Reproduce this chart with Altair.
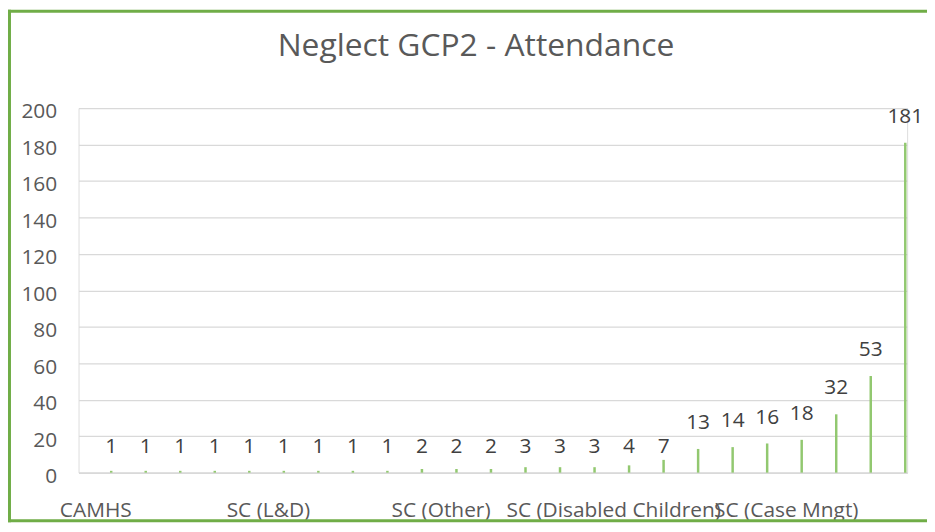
import altair as alt
import pandas as pd

# ---- data ----
categories = [
    "CAMHS", "Category 2", "Category 3", "Category 4", "Category 5",
    "SC (L&D)", "Category 7", "Category 8", "Category 9", "Category 10",
    "SC (Other)", "Category 12", "Category 13", "Category 14", "Category 15",
    "SC (Disabled Children)", "Category 17", "Category 18", "Category 19", "Category 20",
    "SC (Case Mngt)", "Category 22", "Category 23", "Category 24",
]
attendance = [1, 1, 1, 1, 1, 1, 1, 1, 1, 2, 2, 2, 3, 3, 3, 4, 7, 13, 14, 16, 18, 32, 53, 181]
shown_labels = ["CAMHS", "SC (L&D)", "SC (Other)", "SC (Disabled Children)", "SC (Case Mngt)"]
y_ticks = [0, 20, 40, 60, 80, 100, 120, 140, 160, 180, 200]
title_text = ["Neglect GCP2 - Attendance"]

df = pd.DataFrame({"category": categories, "attendance": attendance})

W, H = 834, 367
PAD_L, PAD_T, PAD_R, PAD_B = 71, 99, 20, 50
FONT = "Open Sans"
BAR_OFFSET = 15.5
GREEN = "#70AD47"

x_enc = alt.X(
    "category:N",
    sort=None,
    scale=alt.Scale(paddingInner=0, paddingOuter=0),
    axis=alt.Axis(
        values=shown_labels, title=None, labelAngle=0, labelFontSize=21,
        labelFont=FONT, labelColor="#595959", ticks=False, grid=False,
        domainColor="#D9D9D9", domainWidth=1.5, labelPadding=27,
        labelOverlap=False, labelLimit=400,
    ),
)

y_scale = alt.Scale(domain=[0, 200], nice=False)
y_axis = alt.Axis(
    values=y_ticks, title=None, labelFontSize=21, labelFont=FONT,
    labelColor="#595959", labelPadding=22, domain=False, ticks=False,
    gridColor="#D9D9D9", gridWidth=1.3, labelOffset=4,
)

base = alt.Chart(df).encode(x=x_enc)

bars = base.mark_bar(width=2.5, xOffset=BAR_OFFSET, color="#92C870").encode(
    y=alt.Y("attendance:Q", scale=y_scale, axis=y_axis)
)

labels = base.transform_calculate(
    label_y="datum.attendance < 10 ? 0 : datum.attendance"
).mark_text(
    font=FONT, fontSize=21, color="#404040", baseline="alphabetic",
    dy=-20, xOffset=BAR_OFFSET,
).encode(
    y=alt.Y("label_y:Q", scale=y_scale, axis=y_axis),
    text="attendance:Q",
)

title_df = pd.DataFrame({"title": title_text})
title = alt.Chart(title_df).mark_text(
    font=FONT, fontSize=32, color="#595959", baseline="alphabetic",
    align="center", clip=False,
).encode(x=alt.value(400), y=alt.value(-52), text="title:N")

one = pd.DataFrame({"f": [0]})
frame_left = alt.Chart(one).mark_rule(color=GREEN, strokeWidth=3, clip=False).encode(
    x=alt.value(-PAD_L + 1.5), y=alt.value(-PAD_T), y2=alt.value(H + PAD_B)
)
frame_top = alt.Chart(one).mark_rule(color=GREEN, strokeWidth=3, clip=False).encode(
    x=alt.value(-PAD_L), x2=alt.value(W + PAD_R), y=alt.value(-PAD_T + 1.5)
)
frame_bottom = alt.Chart(one).mark_rule(color=GREEN, strokeWidth=3, clip=False).encode(
    x=alt.value(-PAD_L), x2=alt.value(W + PAD_R), y=alt.value(H + PAD_B - 1.5)
)

chart = alt.layer(bars, labels, title, frame_left, frame_top, frame_bottom).properties(
    width=W,
    height=H,
    autosize=alt.AutoSizeParams(type="none"),
    padding={"left": PAD_L, "top": PAD_T, "right": PAD_R, "bottom": PAD_B},
).configure_view(stroke=None).configure(background="white")

chart.save("out.html", embed_options={"renderer": "svg", "actions": False})
